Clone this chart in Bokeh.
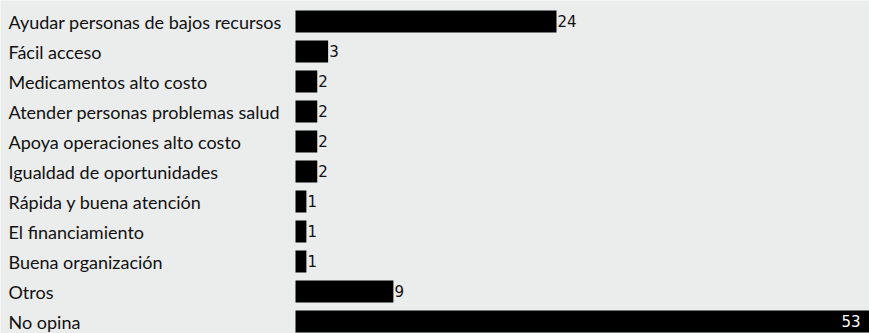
from bokeh.plotting import figure
from bokeh.models import Range1d, ColumnDataSource
from bokeh.core.properties import value
from bokeh.embed import file_html
from bokeh.resources import INLINE

categories = ["Ayudar personas de bajos recursos", "Fácil acceso", "Medicamentos alto costo",
              "Atender personas problemas salud", "Apoya operaciones alto costo",
              "Igualdad de oportunidades", "Rápida y buena atención", "El financiamiento",
              "Buena organización", "Otros", "No opina"]
values = [24, 3, 2, 2, 2, 2, 1, 1, 1, 9, 53]

W, H = 869, 333
bar_x0 = 295      # pixel where zero lies
px_per_unit = 10.875
row_pitch = 30
first_center = 21

x_start = -bar_x0 / px_per_unit
x_end = (W - bar_x0) / px_per_unit
y_top = -first_center / row_pitch
y_bottom = y_top + H / row_pitch

p = figure(width=W, height=H, output_backend="svg", toolbar_location=None,
           x_range=Range1d(x_start, x_end), y_range=Range1d(y_bottom, y_top),
           min_border=0, outline_line_color=None, background_fill_color="#ebecec",
           border_fill_color="#ebecec")
p.axis.visible = False
p.grid.visible = False

n = len(categories)
ys = list(range(n))
src = ColumnDataSource(dict(y=ys, v=values, cat=categories,
                            lab=[str(v) for v in values]))
p.hbar(y="y", left=0, right="v", height=22 / row_pitch, source=src,
       fill_color="black", line_color=None)

label_x = x_start + 8 / px_per_unit
p.text(x=[label_x] * n, y=ys, text=categories, text_font=value("Lato"),
       text_font_size="18px", text_baseline="middle", text_align="left",
       text_color="#111111")

# value labels
out_idx = [i for i, v in enumerate(values) if v < 50]
in_idx = [i for i, v in enumerate(values) if v >= 50]
p.text(x=[values[i] for i in out_idx], y=[ys[i] for i in out_idx],
       text=[str(values[i]) for i in out_idx], x_offset=1, y_offset=-1,
       text_font=value("DejaVu Sans"), text_font_size="15px",
       text_baseline="middle", text_align="left", text_color="#111111")
p.text(x=[x_end] * len(in_idx), y=[ys[i] for i in in_idx],
       text=[str(values[i]) for i in in_idx], x_offset=-9, y_offset=-1,
       text_font=value("DejaVu Sans"), text_font_size="15px",
       text_baseline="middle", text_align="right", text_color="white")

open("out.html", "w").write(file_html(p, INLINE))
